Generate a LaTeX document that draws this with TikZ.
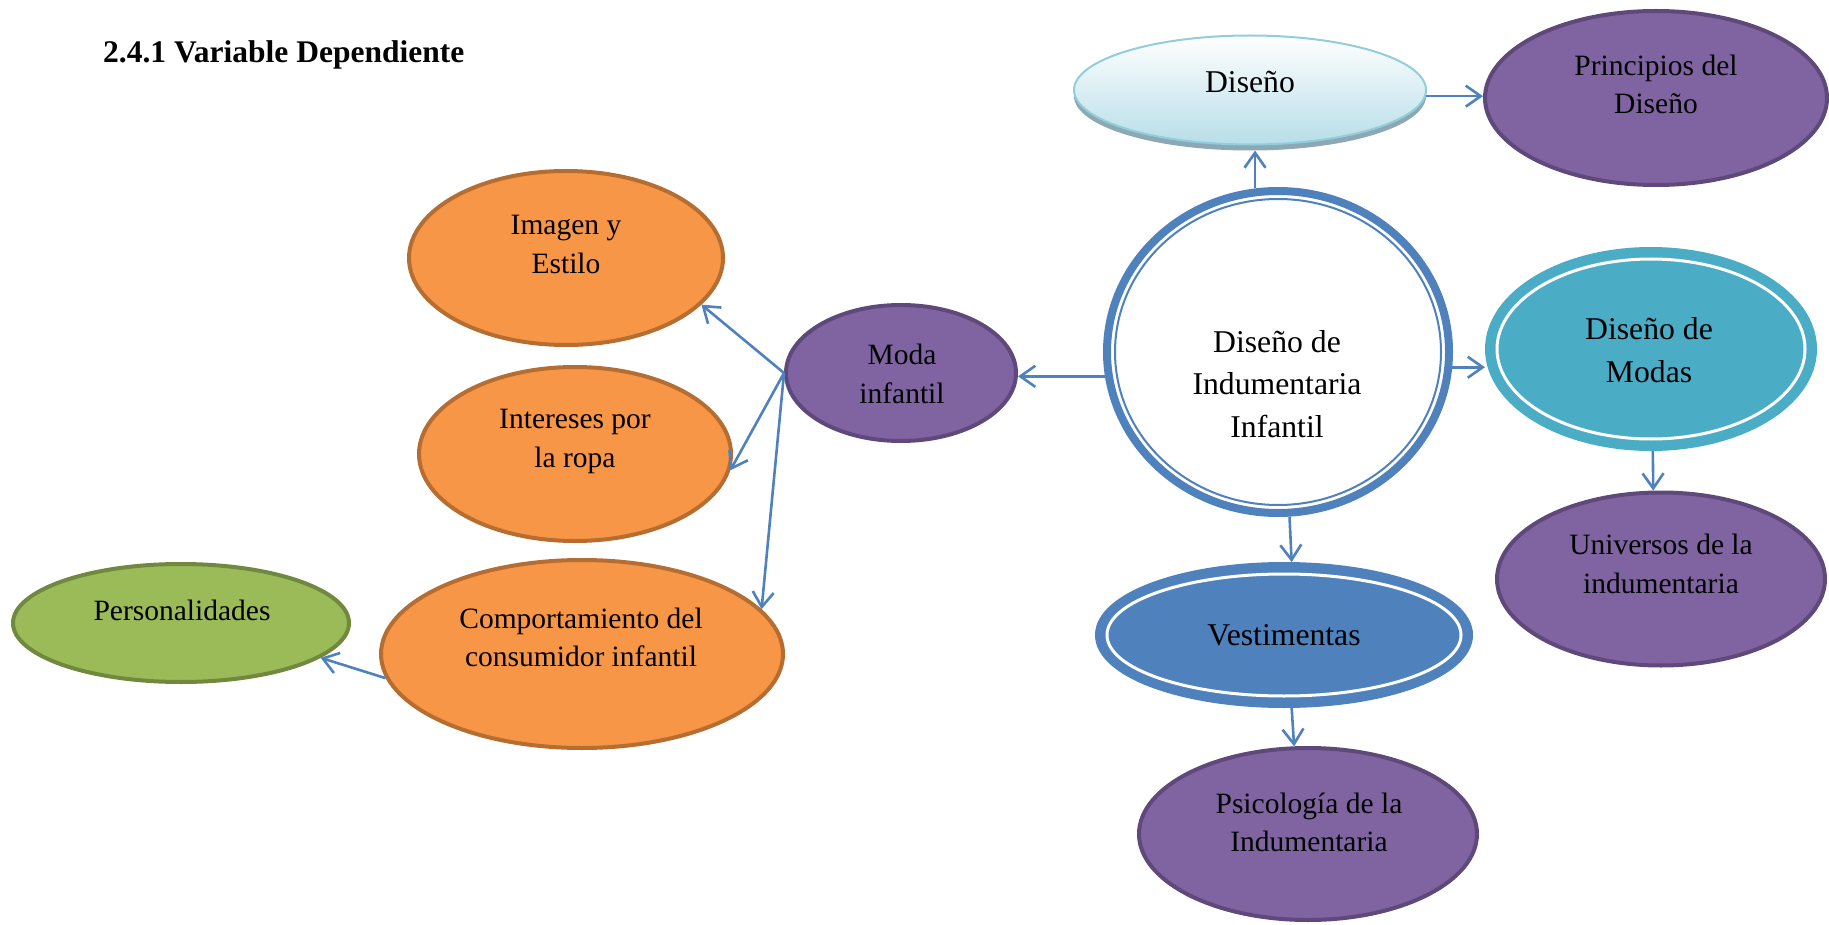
\documentclass[tikz,border=0pt]{standalone}
\usepackage{fontspec}
\setmainfont{Liberation Serif}
\usetikzlibrary{arrows.meta,shapes.geometric}
\definecolor{arrowblue}{RGB}{79,129,189}
\definecolor{purpfill}{RGB}{128,100,162}
\definecolor{purpline}{RGB}{94,73,122}
\definecolor{orfill}{RGB}{247,150,70}
\definecolor{orline}{RGB}{182,109,49}
\definecolor{grfill}{RGB}{155,187,89}
\definecolor{grline}{RGB}{113,137,63}
\definecolor{tealc}{RGB}{75,172,198}
\definecolor{disbot}{RGB}{183,222,232}
\definecolor{disline}{RGB}{146,205,220}
\definecolor{dshad}{RGB}{140,168,180}
\begin{document}
\begin{tikzpicture}[x=1pt,y=-1pt,
  ell/.style={ellipse,inner sep=0pt,line width=4pt},
  sz/.style 2 args={minimum width=#1pt,minimum height=#2pt},
  purp/.style={ell,fill=purpfill,draw=purpline},
  oran/.style={ell,fill=orfill,draw=orline},
  gren/.style={ell,fill=grfill,draw=grline},
  lbl/.style={align=center,inner sep=0pt,font=\fontsize{29.5}{38.5}\selectfont},
  lblbig/.style={align=center,inner sep=0pt,font=\fontsize{31.7}{42.5}\selectfont},
  conn/.style={draw=arrowblue,line width=2.6pt,-{Straight Barb[length=15pt,width=21pt]}}]
\useasboundingbox (0,0) rectangle (1829,925);

\node[anchor=base west,inner sep=0pt,font=\bfseries\fontsize{31.5}{38}\selectfont] (title) at (103,63) {2.4.1 Variable Dependiente};

% shapes
\node[ell,sz={352}{109},fill=dshad,line width=0pt] (dshadow) at (1250,96) {};
\node[ell,sz={352}{109},top color=white,bottom color=disbot,draw=disline,line width=2pt] (diseno) at (1250,90) {};
\node[purp,sz={342}{174}] (principios) at (1656,98) {};

\node[ell,sz={342}{322},draw=arrowblue,line width=8pt,fill=white] (central) at (1278,352) {};
\draw[arrowblue,line width=2pt] (central.center) ellipse [x radius=163pt,y radius=153pt];

\node[ell,sz={322}{194},fill=tealc,draw=tealc,line width=10pt] (modas) at (1651,349) {};
\draw[white,line width=3pt] (modas.center) ellipse [x radius=154pt,y radius=90pt];

\node[purp,sz={328}{173}] (universos) at (1661,579) {};

\node[ell,sz={368}{136},fill=arrowblue,draw=arrowblue,line width=10pt] (vest) at (1284,635) {};
\draw[white,line width=3pt] (vest.center) ellipse [x radius=177pt,y radius=61pt];

\node[purp,sz={338}{172}] (psico) at (1308,834) {};
\node[purp,sz={230}{136}] (moda) at (901,373) {};
\node[oran,sz={314}{174}] (imagen) at (566,258) {};
\node[oran,sz={312}{174}] (intereses) at (575,454) {};
\node[oran,sz={402}{188}] (comp) at (582,654) {};
\node[gren,sz={336}{118}] (pers) at (181,623) {};

% labels
\node[lblbig] (tdiseno) at (1250,82) {Diseño};
\node[lbl] (tprincipios) at (1656,84.5) {Principios del\\Diseño};
\node[lblbig] (tcentral) at (1277,384) {Diseño de\\Indumentaria\\Infantil};
\node[lblbig] (tmodas) at (1649,350) {Diseño de\\Modas};
\node[lbl] (tuniversos) at (1661,564) {Universos de la\\indumentaria};
\node[lblbig] (tvest) at (1284,635) {Vestimentas};
\node[lbl] (tpsico) at (1309,822.5) {Psicología de la\\Indumentaria};
\node[lbl] (tmoda) at (902,374) {Moda\\infantil};
\node[lbl] (timagen) at (566,244.5) {Imagen y\\Estilo};
\node[lbl] (tintereses) at (575,441.5) {Intereses por\\la ropa};
\node[lbl] (tcomp) at (581,637.5) {Comportamiento del\\consumidor infantil};
\node[lbl] (tpers) at (182,610) {Personalidades};

% connectors
\draw[conn] (central.98) -- (central.98 |- dshadow.south);
\draw[conn] (diseno.-2) -- (diseno.-2 -| principios.west);
\draw[conn] (central.-5) -- (central.-5 -| modas.west);
\draw[conn] (modas.-89) -- (universos.95);
\draw[conn] (central.-86) -- (vest.84);
\draw[conn] (vest.-84) -- (psico.99);
\draw[conn] (central.188) -- (central.188 -| moda.east);
\draw[conn] (moda.west) -- (imagen.-19);
\draw[conn] (moda.west) -- (intereses.-6);
\draw[conn] (moda.west) -- (comp.14);
\draw[conn] (comp.187) -- (pers.-14);
\end{tikzpicture}
\end{document}
